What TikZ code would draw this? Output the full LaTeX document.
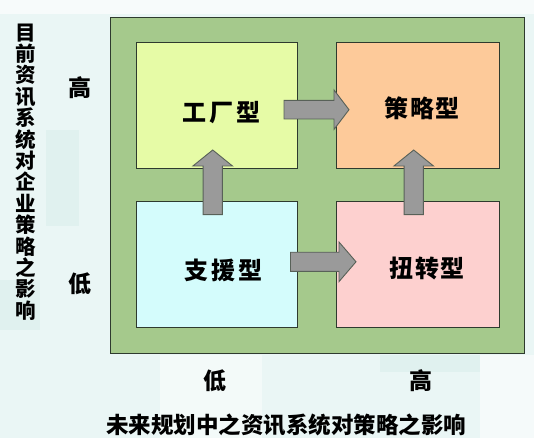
\documentclass[tikz,border=0pt]{standalone}
\usepackage{fontspec}
\newfontfamily\cjk{Noto Sans CJK SC}
\usetikzlibrary{calc}
\definecolor{bgc}{HTML}{EAF6F5}
\definecolor{tilec}{HTML}{E0F1EF}
\definecolor{greenc}{HTML}{A5C98C}
\definecolor{limec}{HTML}{E6FBA6}
\definecolor{orangec}{HTML}{FDCA9A}
\definecolor{cyanc}{HTML}{D4FCFC}
\definecolor{pinkc}{HTML}{FDD0CF}
\definecolor{arrc}{HTML}{9A9A9A}
\definecolor{edgec}{HTML}{2E3A2E}
\tikzset{
  quad/.style={draw=edgec, line width=1pt, inner sep=0pt, minimum width=161pt, minimum height=126pt},
  boxlabel/.style={font=\cjk\bfseries\fontsize{24}{26}\selectfont, inner sep=0pt},
  axislabel/.style={font=\cjk\bfseries\fontsize{23}{25}\selectfont, inner sep=0pt},
  blockarrow/.style={fill=arrc, draw=edgec!80, line width=0.9pt, line join=miter}
}
\begin{document}
\begin{tikzpicture}[x=1pt,y=-1pt]
\useasboundingbox (0,0) rectangle (534,438);
% background
\fill[bgc] (0,0) rectangle (534,438);
\fill[white!60!bgc] (0,0) rectangle (534,14);
\fill[tilec] (46,130) rectangle (79,226);
\fill[tilec] (0,280) rectangle (40,330);
\fill[white!40!bgc] (160,355) rectangle (262,438);
\fill[tilec] (380,355) rectangle (480,372);
\fill[white!50!bgc] (480,355) rectangle (534,438);
% outer green panel
\node[draw=edgec, line width=1pt, fill=greenc, inner sep=0pt, minimum width=414pt, minimum height=336pt] (panel) at (317,185.6) {};
% quadrant boxes
\node[quad, fill=limec] (tl) at (216.5,106) {};
\node[quad, fill=orangec, minimum width=162.5pt] (tr) at (417.75,106) {};
\node[quad, fill=cyanc] (bl) at (216.5,264.8) {};
\node[quad, fill=pinkc, minimum width=162.5pt] (br) at (417.75,264.8) {};
% labels
\node[boxlabel] (tlt) at (221,113) {工\hspace{3pt}厂\hspace{3pt}型};
\node[boxlabel] (trt) at (422,108) {策\hspace{2pt}略\hspace{2pt}型};
\node[boxlabel] (blt) at (223,270) {支\hspace{3pt}援\hspace{3pt}型};
\node[boxlabel] (brt) at (427,268) {扭\hspace{2pt}转\hspace{2pt}型};
% arrow end points
\coordinate (a1s) at (284,109.7);  \coordinate (a1e) at (349,109.7);
\coordinate (a2s) at (290.5,261.8); \coordinate (a2e) at (356,261.8);
\coordinate (a3s) at (212.7,214.6); \coordinate (a3e) at (212.7,150);
\coordinate (a4s) at (413.7,214.6); \coordinate (a4e) at (413.7,150);
% horizontal block arrows (tl -> tr, bl -> br)
\draw[blockarrow] ($(a1s)+(0,-9.3)$) -- ($(a1e)+(-15,-9.3)$) -- ($(a1e)+(-15,-19.7)$) -- (a1e)
  -- ($(a1e)+(-15,19.7)$) -- ($(a1e)+(-15,9.3)$) -- ($(a1s)+(0,9.3)$) -- cycle;
\draw[blockarrow] ($(a2s)+(0,-9.6)$) -- ($(a2e)+(-17,-9.6)$) -- ($(a2e)+(-17,-19.8)$) -- (a2e)
  -- ($(a2e)+(-17,19.8)$) -- ($(a2e)+(-17,9.6)$) -- ($(a2s)+(0,9.6)$) -- cycle;
% vertical block arrows (bl -> tl, br -> tr)
\draw[blockarrow] ($(a3s)+(-9.6,0)$) -- ($(a3e)+(-9.6,16)$) -- ($(a3e)+(-19.8,16)$) -- (a3e)
  -- ($(a3e)+(19.8,16)$) -- ($(a3e)+(9.6,16)$) -- ($(a3s)+(9.6,0)$) -- cycle;
\draw[blockarrow] ($(a4s)+(-9.6,0)$) -- ($(a4e)+(-9.6,16)$) -- ($(a4e)+(-19.8,16)$) -- (a4e)
  -- ($(a4e)+(19.8,16)$) -- ($(a4e)+(9.6,16)$) -- ($(a4s)+(9.6,0)$) -- cycle;
% axis labels
\node[axislabel] (yhigh) at (80,88) {高};
\node[axislabel] (ylow) at (80,284) {低};
\node[axislabel] (xlow) at (214.6,381) {低};
\node[axislabel] (xhigh) at (421,381) {高};
\node[inner sep=0pt, font=\cjk\bfseries\fontsize{22.5}{24}\selectfont] (xtitle) at (286,425) {未来规划中之资讯系统对策略之影响};
\node[inner sep=0pt, align=center, font=\cjk\bfseries\fontsize{20.5}{21.4}\selectfont] (ytitle) at (25.5,172)
  {目\\前\\资\\讯\\系\\统\\对\\企\\业\\策\\略\\之\\影\\响};
\end{tikzpicture}
\end{document}
